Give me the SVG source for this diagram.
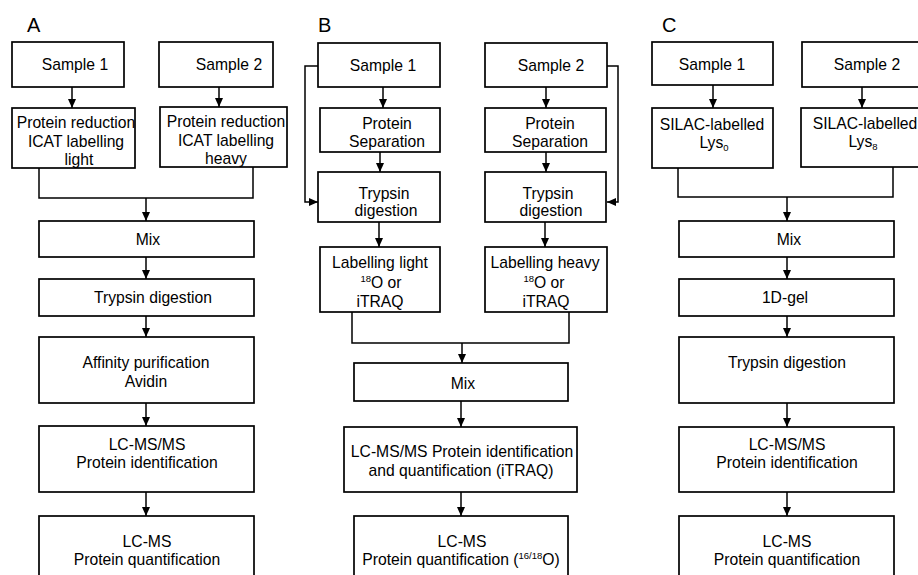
<svg xmlns="http://www.w3.org/2000/svg" width="918" height="575" viewBox="0 0 918 575">
<defs>
<marker id="ah" markerUnits="userSpaceOnUse" markerWidth="9" markerHeight="8" refX="9" refY="4" orient="auto">
<path d="M0,0 L9,4 L0,8 z" fill="#000"/>
</marker>
<style>
rect{fill:#fff;stroke:#000;stroke-width:1.7}
text{font-family:"Liberation Sans",Arial,sans-serif;font-size:15.7px;fill:#000;text-anchor:middle}
.lbl{font-size:20px;text-anchor:start}
.sup{font-size:9.5px}
#connectors path{fill:none;stroke:#000;stroke-width:1.5}
#connectors .a{marker-end:url(#ah)}
</style>
</defs>
<rect x="0" y="0" width="918" height="575" style="fill:#fff;stroke:none"/>

<g id="labels">
<text class="lbl" x="27" y="32">A</text>
<text class="lbl" x="318" y="32">B</text>
<text class="lbl" x="662" y="32">C</text>
</g>

<g id="connectors">
<!-- A -->
<path class="a" d="M72,87 V108"/>
<path class="a" d="M219,87 V107"/>
<path d="M39,168 V198 H253 V167"/>
<path class="a" d="M146,198 V221"/>
<path class="a" d="M146,257 V279"/>
<path class="a" d="M146,316 V337"/>
<path class="a" d="M146,403 V426"/>
<path class="a" d="M146,492 V516"/>
<!-- B -->
<path class="a" d="M383,87 V108"/>
<path class="a" d="M546,87 V108"/>
<path class="a" d="M380,152 V172"/>
<path class="a" d="M546,152 V172"/>
<path class="a" d="M318,66 H305 V202 H318"/>
<path class="a" d="M607,66 H618 V202 H607"/>
<path class="a" d="M379,222 V247"/>
<path class="a" d="M545,222 V247"/>
<path d="M352,312 V343 H569 V312"/>
<path class="a" d="M462,343 V363"/>
<path class="a" d="M461,401 V427"/>
<path class="a" d="M461,492 V516"/>
<!-- C -->
<path class="a" d="M713,85 V108"/>
<path class="a" d="M862,87 V108"/>
<path d="M678,168 V197 H893 V167"/>
<path class="a" d="M787,197 V221"/>
<path class="a" d="M787,257 V279"/>
<path class="a" d="M787,316 V337"/>
<path class="a" d="M787,403 V427"/>
<path class="a" d="M787,492 V516"/>
</g>

<!-- Panel A -->
<g id="A-sample1"><rect x="12" y="42" width="112" height="45"/><text x="75" y="70">Sample 1</text></g>
<g id="A-sample2"><rect x="159" y="42" width="114" height="45"/><text x="229" y="70">Sample 2</text></g>
<g id="A-icat-light"><rect x="12" y="108" width="123" height="60"/><text x="76" y="128">Protein reduction</text><text x="76" y="147">ICAT labelling</text><text x="79" y="165">light</text></g>
<g id="A-icat-heavy"><rect x="160" y="107" width="127" height="60"/><text x="226" y="127">Protein reduction</text><text x="226" y="146">ICAT labelling</text><text x="226" y="164">heavy</text></g>
<g id="A-mix"><rect x="39" y="221" width="215" height="36"/><text x="148" y="245">Mix</text></g>
<g id="A-trypsin"><rect x="39" y="279" width="215" height="37"/><text x="153" y="303">Trypsin digestion</text></g>
<g id="A-affinity"><rect x="39" y="337" width="215" height="66"/><text x="146" y="368">Affinity purification</text><text x="146" y="387">Avidin</text></g>
<g id="A-lcmsms"><rect x="39" y="426" width="215" height="66"/><text x="147" y="450">LC-MS/MS</text><text x="147" y="468">Protein identification</text></g>
<g id="A-lcms"><rect x="39" y="516" width="215" height="70"/><text x="147" y="547">LC-MS</text><text x="147" y="565">Protein quantification</text></g>

<!-- Panel B -->
<g id="B-sample1"><rect x="318" y="43" width="122" height="44"/><text x="383" y="71">Sample 1</text></g>
<g id="B-sample2"><rect x="485" y="43" width="122" height="44"/><text x="551" y="71">Sample 2</text></g>
<g id="B-sep1"><rect x="320" y="108" width="120" height="44"/><text x="387" y="129">Protein</text><text x="387" y="147">Separation</text></g>
<g id="B-sep2"><rect x="485" y="108" width="121" height="44"/><text x="550" y="129">Protein</text><text x="550" y="147">Separation</text></g>
<g id="B-tryp1"><rect x="318" y="172" width="122" height="50"/><text x="384" y="199">Trypsin</text><text x="386" y="216">digestion</text></g>
<g id="B-tryp2"><rect x="485" y="172" width="121" height="50"/><text x="548" y="199">Trypsin</text><text x="551" y="216">digestion</text></g>
<g id="B-label-light"><rect x="320" y="247" width="120" height="65"/><text x="380" y="268">Labelling light</text><text x="381" y="288"><tspan class="sup" dy="-6">18</tspan><tspan dy="6">O or</tspan></text><text x="380" y="307">iTRAQ</text></g>
<g id="B-label-heavy"><rect x="485" y="247" width="122" height="65"/><text x="545" y="268">Labelling heavy</text><text x="544" y="288"><tspan class="sup" dy="-6">18</tspan><tspan dy="6">O or</tspan></text><text x="546" y="307">iTRAQ</text></g>
<g id="B-mix"><rect x="354" y="363" width="214" height="38"/><text x="463" y="389">Mix</text></g>
<g id="B-lcmsms"><rect x="344" y="427" width="233" height="65"/><text x="462" y="457">LC-MS/MS Protein identification</text><text x="461" y="476">and quantification (iTRAQ)</text></g>
<g id="B-lcms"><rect x="354" y="516" width="214" height="70"/><text x="462" y="547">LC-MS</text><text x="461" y="565">Protein quantification (<tspan class="sup" dy="-6">16/18</tspan><tspan dy="6">O)</tspan></text></g>

<!-- Panel C -->
<g id="C-sample1"><rect x="652" y="42" width="121" height="43"/><text x="712" y="70">Sample 1</text></g>
<g id="C-sample2"><rect x="802" y="42" width="124" height="45"/><text x="867" y="70">Sample 2</text></g>
<g id="C-silac1"><rect x="652" y="108" width="121" height="60"/><text x="712" y="130">SILAC-labelled</text><text x="714" y="148">Lys<tspan class="sup" dy="3">0</tspan></text></g>
<g id="C-silac2"><rect x="801" y="108" width="125" height="59"/><text x="865" y="129">SILAC-labelled</text><text x="863" y="147">Lys<tspan class="sup" dy="3">8</tspan></text></g>
<g id="C-mix"><rect x="679" y="221" width="215" height="36"/><text x="789" y="245">Mix</text></g>
<g id="C-gel"><rect x="679" y="279" width="215" height="37"/><text x="785" y="303">1D-gel</text></g>
<g id="C-trypsin"><rect x="679" y="337" width="215" height="66"/><text x="787" y="368">Trypsin digestion</text></g>
<g id="C-lcmsms"><rect x="679" y="427" width="215" height="65"/><text x="787" y="450">LC-MS/MS</text><text x="787" y="468">Protein identification</text></g>
<g id="C-lcms"><rect x="679" y="516" width="215" height="70"/><text x="787" y="547">LC-MS</text><text x="787" y="565">Protein quantification</text></g>
</svg>
